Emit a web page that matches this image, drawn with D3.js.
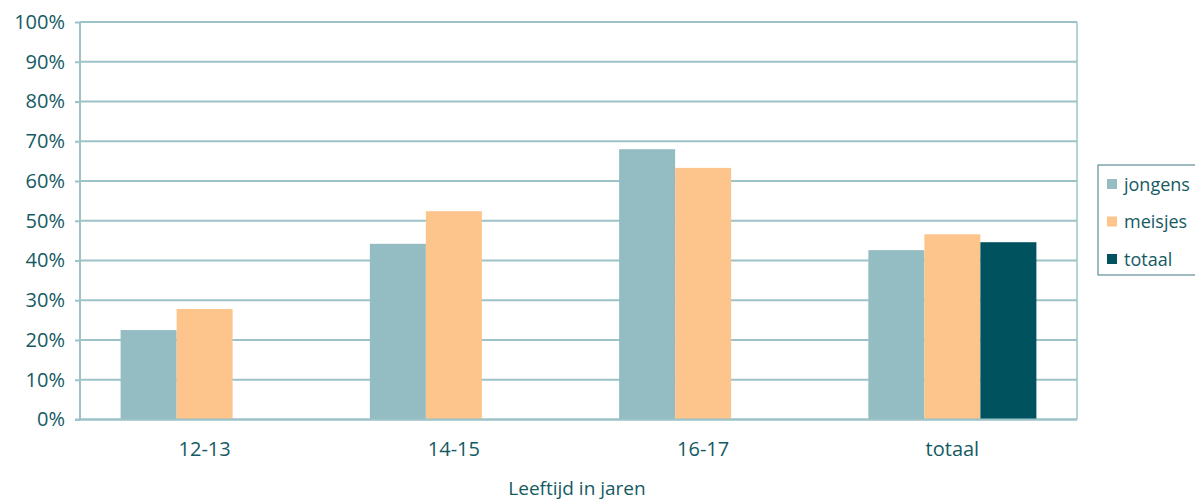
<!DOCTYPE html>
<html>
<head>
<meta charset="utf-8">
<script src="https://cdn.jsdelivr.net/npm/d3@7"></script>
<style>
  body { margin: 0; background: #fff; }
  text { font-family: "Open Sans", sans-serif; fill: #155a63; }
</style>
</head>
<body>
<svg id="chart" width="1195" height="502"></svg>
<script>
// categories and series
var categories = ['12-13', '14-15', '16-17', 'totaal'];
var seriesNames = ['jongens', 'meisjes', 'totaal'];
var jongens = [22.5, 44.2, 68.0, 42.6];
var meisjes = [27.8, 52.4, 63.3, 46.6];
var totaal = [null, null, null, 44.6];
var yTicks = [0, 10, 20, 30, 40, 50, 60, 70, 80, 90, 100];
var xTitle = 'Leeftijd in jaren';

var colors = { jongens: '#93bcc3', meisjes: '#fdc48b', totaal: '#00525e' };
var gridColor = '#9cc3c8';

var m = { left: 80, top: 22, right: 1077, bottom: 419.5 };
var svg = d3.select('#chart');

var x = d3.scaleBand().domain(categories).range([m.left, m.right]);
var xs = d3.scaleBand().domain(seriesNames).range([0, x.bandwidth()]).paddingOuter(0.725).paddingInner(0);
var y = d3.scaleLinear().domain([0, 100]).range([m.bottom, m.top]);

// y axis labels + tick marks
var yAxis = d3.axisLeft(y).tickValues(yTicks).tickSize(5).tickPadding(10)
  .tickFormat(function(d){ return d + '%'; });
var gy = svg.append('g').attr('transform', 'translate(' + m.left + ',0)').call(yAxis);
gy.select('.domain').remove();
gy.selectAll('line').attr('stroke', gridColor).attr('stroke-width', 2);
gy.selectAll('text').style('font-size', '20px').attr('fill', '#155a63');

// gridlines
svg.append('g').selectAll('line').data(yTicks).enter().append('line')
  .attr('x1', m.left).attr('x2', m.right)
  .attr('y1', function(d){ return y(d); }).attr('y2', function(d){ return y(d); })
  .attr('stroke', gridColor).attr('stroke-width', 2);

// frame (left + right)
svg.append('line').attr('x1', m.left).attr('x2', m.left).attr('y1', m.top).attr('y2', m.bottom)
  .attr('stroke', gridColor).attr('stroke-width', 2);
svg.append('line').attr('x1', m.right).attr('x2', m.right).attr('y1', m.top).attr('y2', m.bottom)
  .attr('stroke', gridColor).attr('stroke-width', 1.5);

// bars
var data = { jongens: jongens, meisjes: meisjes, totaal: totaal };
seriesNames.forEach(function(s){
  svg.append('g').selectAll('rect')
    .data(categories.map(function(c, i){ return { cat: c, v: data[s][i] }; }).filter(function(d){ return d.v != null; }))
    .enter().append('rect')
    .attr('x', function(d){ return x(d.cat) + xs(s); })
    .attr('width', xs.bandwidth())
    .attr('y', function(d){ return y(d.v); })
    .attr('height', function(d){ return y(0) - y(d.v); })
    .attr('fill', colors[s]);
});

// bottom axis line
svg.append('line').attr('x1', m.left - 5).attr('x2', m.right).attr('y1', m.bottom).attr('y2', m.bottom)
  .attr('stroke', gridColor).attr('stroke-width', 2);

// x labels
var xAxis = d3.axisBottom(x).tickSize(0).tickPadding(22);
var gx = svg.append('g').attr('transform', 'translate(0,' + m.bottom + ')').call(xAxis);
gx.select('.domain').remove();
gx.selectAll('text').style('font-size', '20px').attr('fill', '#155a63');

svg.append('text').attr('x', 577).attr('y', 495).attr('text-anchor', 'middle')
  .style('font-size', '19px').text(xTitle);

// legend
var lg = svg.append('g').attr('transform', 'translate(1098,165)');
lg.append('rect').attr('x', 0).attr('y', 0).attr('width', 110).attr('height', 110)
  .attr('fill', '#fff').attr('stroke', '#3f7a80').attr('stroke-width', 1);
seriesNames.forEach(function(s, i){
  var yy = 19 + i * 37.5;
  lg.append('rect').attr('x', 9).attr('y', yy - 5).attr('width', 10).attr('height', 10).attr('fill', colors[s]);
  lg.append('text').attr('x', 26).attr('y', yy + 6.5).style('font-size', '18px').text(s);
});
</script>
</body>
</html>
